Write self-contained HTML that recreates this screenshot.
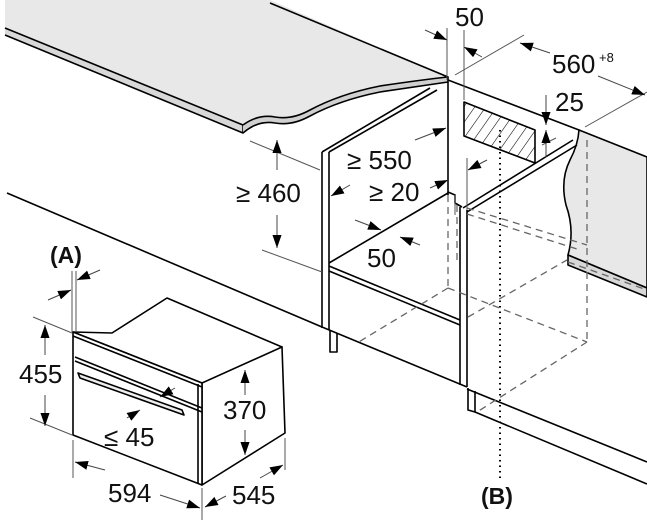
<!DOCTYPE html>
<html><head><meta charset="utf-8"><style>
html,body{margin:0;padding:0;background:#fff}
svg{display:block}
text{font-family:"Liberation Sans",sans-serif;fill:#111}
</style></head><body>
<svg width="647" height="532" viewBox="0 0 647 532" xmlns="http://www.w3.org/2000/svg">
<defs>
<marker id="a" viewBox="0 0 10 10" refX="10" refY="5" markerWidth="13" markerHeight="13" orient="auto-start-reverse" markerUnits="userSpaceOnUse"><path d="M0,1.5 L10,5 L0,8.5 z" fill="#000"/></marker>
<pattern id="h" width="9" height="9" patternUnits="userSpaceOnUse" patternTransform="rotate(35)"><line x1="0" y1="0" x2="0" y2="9" stroke="#000" stroke-width="1.1"/></pattern>
</defs>
<g stroke="#000" stroke-width="1.6" fill="none" stroke-linejoin="round">
<path d="M5,0 L270,0 L448,77 Q420,80 380,86 Q340,94 310,110 Q292,120 275,117 Q258,114 243,125 L5,28 Z" fill="#e8e8e8" stroke="none"/>
<path d="M5,28 L243,125 L243,133 L5,35" fill="#d8d8d8"/>
<path d="M243,125 Q258,114 275,117 Q292,120 310,110 Q340,94 380,86 Q420,80 448,77 L448,82 Q420,86 380,92 Q340,100 310,116 Q292,126 275,123 Q258,120 243,133" fill="#d0d0d0"/>
<line x1="270" y1="3" x2="448" y2="77"/>
<line x1="448" y1="80" x2="579" y2="130"/>
<path d="M579,130 L647,157 L647,288 L568,255 Q575,230 566,205 Q560,180 570,160 Q578,145 579,130 Z" fill="#e8e8e8"/>
<path d="M568,255 L647,288 L647,297 L568,265 Z" fill="#d8d8d8"/>
<line x1="322" y1="152" x2="430" y2="88"/>
<line x1="329" y1="152" x2="437" y2="90"/>
<line x1="322" y1="152" x2="322" y2="328"/>
<line x1="329" y1="152" x2="329" y2="330"/>
<line x1="448" y1="82" x2="448" y2="195"/>
<path d="M448,192 L455,195 L455,203 L462,207"/>
<line x1="329" y1="263" x2="448" y2="193"/>
<line x1="329" y1="266" x2="460" y2="320"/>
<line x1="329" y1="271" x2="460" y2="325"/>
<line x1="322" y1="327" x2="467" y2="387"/>
<path d="M330,330 L330,352 L337,352 L337,333"/>
<line x1="460" y1="207" x2="460" y2="385"/>
<line x1="467" y1="210" x2="467" y2="387"/>
<line x1="463" y1="208" x2="573" y2="140"/>
<line x1="467" y1="212" x2="577" y2="145"/>
<path d="M468,388 L468,410 L475,412 L475,391"/>
<line x1="467" y1="389" x2="647" y2="462"/>
<line x1="475" y1="412" x2="647" y2="484"/>
<path d="M464,102 L535,130 L535,163 L464,136 Z" fill="url(#h)"/>
<line x1="7" y1="193" x2="322" y2="327"/>
</g>
<g stroke="#666" stroke-width="1.3" fill="none" stroke-dasharray="7,5">
<line x1="448" y1="195" x2="448" y2="288"/>
<line x1="457" y1="205" x2="457" y2="260"/>
<line x1="467" y1="208" x2="587" y2="245"/>
<line x1="467" y1="214" x2="580" y2="250"/>
<line x1="587" y1="140" x2="587" y2="342"/>
<line x1="448" y1="288" x2="587" y2="342"/>
<line x1="448" y1="288" x2="357" y2="343"/>
<line x1="587" y1="342" x2="477" y2="412"/>
<line x1="468" y1="317" x2="567" y2="260"/>
<line x1="568" y1="262" x2="647" y2="290"/>
</g>
<line x1="500" y1="130" x2="500" y2="478" stroke="#000" stroke-width="2" stroke-dasharray="1.5,4"/>
<g stroke="#000" stroke-width="1.6" fill="#fff" stroke-linejoin="round">
<path d="M73,332 L112,333 L167,298 L282,347 L225,380 L202,383 Z"/>
<path d="M202,383 L282,347 L285,433 L202,485 Z"/>
<path d="M73,332 L202,383 L202,485 L73,435 Z"/>
<line x1="73" y1="336" x2="202" y2="387"/>
<line x1="75" y1="357" x2="202" y2="408"/>
<line x1="75" y1="361" x2="202" y2="412"/>
<path d="M78,373 L182,410 L184,415 L80,378 Z" fill="#eee"/>
<line x1="198" y1="384" x2="198" y2="484"/>
</g>
<g stroke="#555" stroke-width="1" fill="none">
<line x1="250" y1="141" x2="320" y2="170"/>
<line x1="262" y1="250" x2="322" y2="272"/>
<line x1="447" y1="28" x2="447" y2="80"/>
<line x1="464" y1="30" x2="464" y2="100"/>
<line x1="455" y1="75" x2="524" y2="35"/>
<line x1="585" y1="127" x2="647" y2="92"/>
<line x1="542" y1="145" x2="556" y2="138"/>
<line x1="72" y1="271" x2="72" y2="332"/>
<line x1="76" y1="271" x2="76" y2="332"/>
<line x1="33" y1="317" x2="72" y2="333"/>
<line x1="30" y1="418" x2="72" y2="435"/>
<line x1="73" y1="440" x2="73" y2="478"/>
<line x1="202" y1="488" x2="202" y2="520"/>
<line x1="285" y1="438" x2="285" y2="470"/>
<line x1="455" y1="195" x2="455" y2="215"/>
<line x1="467" y1="158" x2="467" y2="210"/>
</g>
<g stroke="#444" stroke-width="1" fill="none" marker-end="url(#a)">
<line x1="277" y1="170" x2="277" y2="140"/>
<line x1="277" y1="215" x2="277" y2="248"/>
<line x1="425" y1="30" x2="447" y2="40"/>
<line x1="482" y1="57" x2="464" y2="47"/>
<line x1="550" y1="53" x2="520" y2="43"/>
<line x1="598" y1="76" x2="645" y2="95"/>
<line x1="546" y1="95" x2="546" y2="125"/>
<line x1="546" y1="157" x2="546" y2="130"/>
<line x1="415" y1="140" x2="446" y2="128"/>
<line x1="350" y1="185" x2="331" y2="196"/>
<line x1="430" y1="188" x2="448" y2="180"/>
<line x1="487" y1="160" x2="468" y2="170"/>
<line x1="355" y1="220" x2="381" y2="230"/>
<line x1="420" y1="245" x2="400" y2="237"/>
<line x1="48" y1="300" x2="71" y2="290"/>
<line x1="100" y1="270" x2="77" y2="280"/>
<line x1="45" y1="355" x2="45" y2="325"/>
<line x1="45" y1="395" x2="45" y2="426"/>
<line x1="245" y1="395" x2="245" y2="370"/>
<line x1="245" y1="430" x2="245" y2="455"/>
<line x1="175" y1="388" x2="160" y2="397"/>
<line x1="127" y1="418" x2="140" y2="410"/>
<line x1="105" y1="470" x2="75" y2="462"/>
<line x1="160" y1="495" x2="200" y2="508"/>
<line x1="260" y1="478" x2="283" y2="465"/>
<line x1="226" y1="496" x2="205" y2="507"/>
</g>
<g font-size="26">
<text x="455" y="26">50</text>
<text x="552" y="73">560</text><text x="599" y="62" font-size="13">+8</text>
<text x="555" y="111">25</text>
<text x="347" y="169">≥ 550</text>
<text x="369" y="201">≥ 20</text>
<text x="236" y="202">≥ 460</text>
<text x="367" y="267">50</text>
<text x="19" y="383">455</text>
<text x="223" y="419">370</text>
<text x="104" y="446">≤ 45</text>
<text x="108" y="502">594</text>
<text x="232" y="504">545</text>
<text x="50" y="263" font-weight="bold" font-size="23">(A)</text>
<text x="481" y="504" font-weight="bold" font-size="23">(B)</text>
</g>
</svg>
</body></html>
